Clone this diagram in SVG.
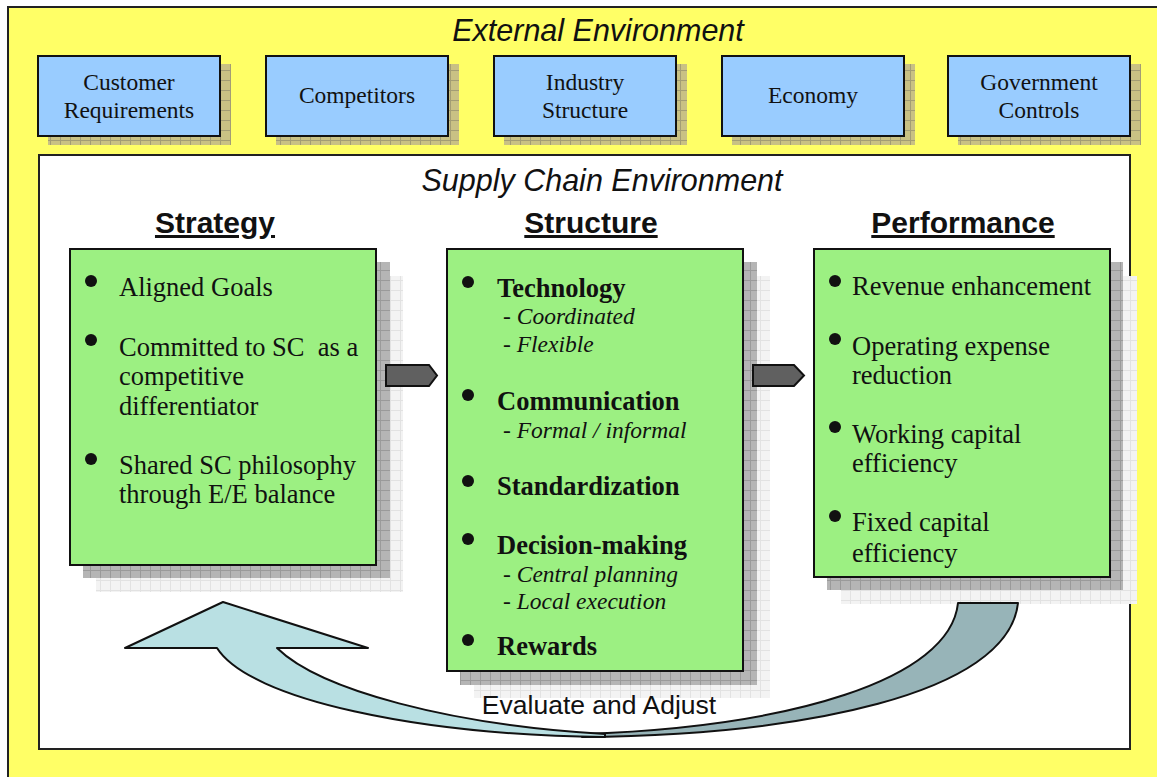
<svg xmlns="http://www.w3.org/2000/svg" width="1157" height="777" viewBox="0 0 1157 777">
<defs>
<pattern id="pOlive" width="10" height="10" patternUnits="userSpaceOnUse">
<rect width="10" height="10" fill="#C9C184"/>
<path d="M0 0.5H10M0.5 0V10" stroke="#A39D74" stroke-width="1"/>
</pattern>
<pattern id="pGray" width="10" height="10" patternUnits="userSpaceOnUse">
<rect width="10" height="10" fill="#B5B5B5"/>
<path d="M0 0.5H10M0.5 0V10" stroke="#9A9A9A" stroke-width="1"/>
</pattern>
<pattern id="pLight" width="10" height="10" patternUnits="userSpaceOnUse">
<rect width="10" height="10" fill="#F3F3F3"/>
<path d="M0 0.5H10M0.5 0V10" stroke="#E2E2E2" stroke-width="1"/>
</pattern>
</defs>
<style>
.blue{fill:#99CCFF;stroke:#111;stroke-width:2}
.green{fill:#9CF082;stroke:#111;stroke-width:2}
.sh1{fill:url(#pOlive)}
.shG{fill:url(#pGray)}
.shL{fill:url(#pLight)}
.bt{font-family:"Liberation Serif",serif;font-size:23.5px;fill:#111;text-anchor:middle}
.env{font-family:"Liberation Sans",sans-serif;font-style:italic;font-size:30.5px;fill:#111;text-anchor:middle}
.hd{font-family:"Liberation Sans",sans-serif;font-weight:bold;font-size:30px;fill:#111;text-anchor:middle;text-decoration:underline}
.gt{font-family:"Liberation Serif",serif;font-size:26.5px;fill:#111}
.gb{font-family:"Liberation Serif",serif;font-size:26.5px;font-weight:bold;fill:#111}
.gi{font-family:"Liberation Serif",serif;font-size:23.5px;font-style:italic;fill:#111}
.ev{font-family:"Liberation Sans",sans-serif;font-size:26.5px;fill:#111;text-anchor:middle}
.blk{fill:#606060;stroke:#111;stroke-width:2}
</style>

<g id="external-environment">
<rect x="8" y="7" width="1160" height="780" fill="#FFFF66" stroke="#222" stroke-width="2"/>
<text class="env" x="598" y="41">External Environment</text>
</g>

<g id="customer-requirements">
<rect class="sh1" x="48" y="64" width="183" height="81"/>
<rect class="blue" x="38" y="56" width="182" height="80"/>
<text class="bt" x="129" y="90">Customer</text>
<text class="bt" x="129" y="118">Requirements</text>
</g>
<g id="competitors">
<rect class="sh1" x="276" y="64" width="183" height="81"/>
<rect class="blue" x="266" y="56" width="182" height="80"/>
<text class="bt" x="357" y="103">Competitors</text>
</g>
<g id="industry-structure">
<rect class="sh1" x="504" y="64" width="183" height="81"/>
<rect class="blue" x="494" y="56" width="182" height="80"/>
<text class="bt" x="585" y="90">Industry</text>
<text class="bt" x="585" y="118">Structure</text>
</g>
<g id="economy">
<rect class="sh1" x="732" y="64" width="183" height="81"/>
<rect class="blue" x="722" y="56" width="182" height="80"/>
<text class="bt" x="813" y="103">Economy</text>
</g>
<g id="government-controls">
<rect class="sh1" x="958" y="64" width="183" height="81"/>
<rect class="blue" x="948" y="56" width="182" height="80"/>
<text class="bt" x="1039" y="90">Government</text>
<text class="bt" x="1039" y="118">Controls</text>
</g>

<g id="supply-chain-environment">
<rect x="39" y="155" width="1091" height="594" fill="#FFFFFF" stroke="#222" stroke-width="2"/>
<text class="env" x="602" y="191">Supply Chain Environment</text>
</g>

<g id="strategy">
<text class="hd" x="215" y="233">Strategy</text>
<rect class="shL" x="96" y="276" width="307" height="316"/>
<rect class="shG" x="83" y="262" width="307" height="316"/>
<rect class="green" x="70" y="249" width="306" height="316"/>
<circle cx="91" cy="281" r="6" fill="#111"/>
<circle cx="91" cy="340" r="6" fill="#111"/>
<circle cx="91" cy="459" r="6" fill="#111"/>
<text class="gt" x="119" y="296">Aligned Goals</text>
<text class="gt" x="119" y="356" xml:space="preserve">Committed to SC  as a</text>
<text class="gt" x="119" y="385">competitive</text>
<text class="gt" x="119" y="415">differentiator</text>
<text class="gt" x="119" y="474">Shared SC philosophy</text>
<text class="gt" x="119" y="503">through E/E balance</text>
</g>

<g id="structure">
<text class="hd" x="591" y="233">Structure</text>
<rect class="shL" x="474" y="276" width="296" height="422"/>
<rect class="shG" x="460" y="262" width="297" height="423"/>
<rect class="green" x="447" y="249" width="296" height="422"/>
<circle cx="468" cy="282" r="6" fill="#111"/>
<circle cx="468" cy="395" r="6" fill="#111"/>
<circle cx="468" cy="481" r="6" fill="#111"/>
<circle cx="468" cy="539" r="6" fill="#111"/>
<circle cx="468" cy="640" r="6" fill="#111"/>
<text class="gb" x="497" y="297">Technology</text>
<text class="gi" x="503" y="324">- Coordinated</text>
<text class="gi" x="503" y="352">- Flexible</text>
<text class="gb" x="497" y="410">Communication</text>
<text class="gi" x="503" y="438">- Formal / informal</text>
<text class="gb" x="497" y="495">Standardization</text>
<text class="gb" x="497" y="554">Decision-making</text>
<text class="gi" x="503" y="582">- Central planning</text>
<text class="gi" x="503" y="609">- Local execution</text>
<text class="gb" x="497" y="655">Rewards</text>
</g>

<g id="performance">
<text class="hd" x="963" y="233">Performance</text>
<rect class="shL" x="841" y="276" width="296" height="328"/>
<rect class="shG" x="827" y="262" width="296" height="328"/>
<rect class="green" x="814" y="249" width="296" height="328"/>
<circle cx="835" cy="281" r="6" fill="#111"/>
<circle cx="835" cy="339" r="6" fill="#111"/>
<circle cx="835" cy="427" r="6" fill="#111"/>
<circle cx="835" cy="516" r="6" fill="#111"/>
<text class="gt" x="852" y="295">Revenue enhancement</text>
<text class="gt" x="852" y="355">Operating expense</text>
<text class="gt" x="852" y="384">reduction</text>
<text class="gt" x="852" y="443">Working capital</text>
<text class="gt" x="852" y="472">efficiency</text>
<text class="gt" x="852" y="531">Fixed capital</text>
<text class="gt" x="852" y="562">efficiency</text>
</g>

<g id="connectors">
<path d="M1018,603 C1008,695 800,735 582,737 L582,734 C790,727 950,680 958,603 Z" fill="#97B4B8" stroke="#111" stroke-width="2" stroke-linejoin="round"/>
<path d="M223,602 L368,648 L277,648 C320,690 450,725 605,734 L605,737 C420,735 250,700 217,648 L125,648 Z" fill="#B9E0E3" stroke="#111" stroke-width="2" stroke-linejoin="round"/>
<text class="ev" x="599" y="714">Evaluate and Adjust</text>
<path class="blk" d="M386,365 L429,365 L437,375.5 L429,386 L386,386 Z"/>
<path class="blk" d="M753,365 L794,365 L804,375.5 L794,386 L753,386 Z"/>
</g>
</svg>
